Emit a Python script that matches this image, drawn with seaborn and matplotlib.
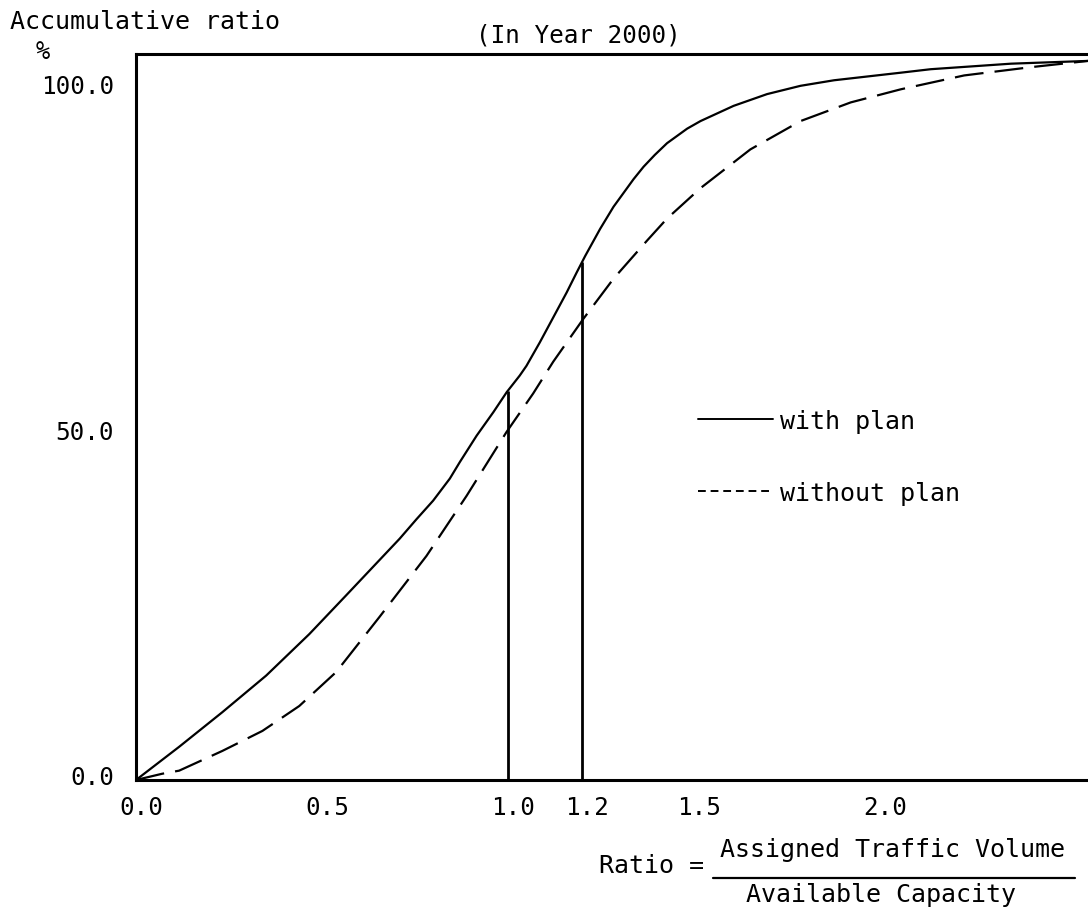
import numpy as np
import pandas as pd
import matplotlib
matplotlib.use("Agg")
import matplotlib.pyplot as plt
from matplotlib.lines import Line2D
from matplotlib.transforms import ScaledTranslation
import seaborn as sns

# ---- data ----
with_x = [0.0, 0.116, 0.232, 0.350, 0.466, 0.565, 0.709, 0.754, 0.799, 0.844,
          0.871, 0.916, 0.961, 0.997, 1.032, 1.050, 1.086, 1.122, 1.158,
          1.185, 1.208, 1.248, 1.284, 1.338, 1.365, 1.395, 1.428, 1.482,
          1.518, 1.607, 1.697, 1.787, 1.877, 2.057, 2.137, 2.353, 2.56]
with_y = [0.0, 4.8, 9.8, 15.1, 21.1, 26.7, 34.9, 37.7, 40.4, 43.6,
          46.0, 49.8, 53.2, 56.1, 58.5, 59.9, 63.3, 66.9, 70.5,
          73.4, 75.8, 79.7, 82.9, 86.9, 88.7, 90.4, 92.1, 94.2,
          95.3, 97.5, 99.2, 100.4, 101.2, 102.3, 102.8, 103.6, 104.0]

without_x = [0.0, 0.07, 0.116, 0.232, 0.340, 0.439, 0.538, 0.655, 0.781, 0.889,
             0.996, 1.068, 1.122, 1.203, 1.284, 1.374, 1.428, 1.518, 1.652,
             1.787, 1.922, 2.057, 2.227, 2.407, 2.56]
without_y = [0.0, 0.9, 1.35, 4.2, 7.1, 10.7, 15.6, 23.6, 32.4, 41.1,
             50.3, 55.9, 60.5, 66.7, 72.5, 78.0, 81.2, 85.6, 91.2,
             95.3, 98.0, 99.9, 101.9, 103.1, 104.0]

marker_x = [1.0, 1.2]
x_ticks = [0.0, 0.5, 1.0, 1.2, 1.5, 2.0]
x_tick_labels = ["0.0", "0.5", "1.0", "1.2", "1.5", "2.0"]
y_ticks = [0.0, 50.0, 100.0]
y_tick_labels = ["0.0", "50.0", "100.0"]
series_labels = ["with plan", "without plan"]

# ---- styling ----
sns.set_theme(style="white")
plt.rcParams["font.family"] = ["DejaVu Sans Mono", "DejaVu Sans"]
plt.rcParams["text.color"] = "black"
plt.rcParams["xtick.color"] = "black"
plt.rcParams["ytick.color"] = "black"

W, H = 1088, 912
fig = plt.figure(figsize=(W / 100, H / 100), dpi=100)
ax = fig.add_axes([136 / W, 1 - 781 / H, (W - 136) / W, (781 - 55) / H])

df_with = pd.DataFrame({"x": with_x, "y": with_y})
df_without = pd.DataFrame({"x": without_x, "y": without_y})

sns.lineplot(data=df_with, x="x", y="y", ax=ax, color="black", lw=1.6,
             estimator=None, sort=False)
sns.lineplot(data=df_without, x="x", y="y", ax=ax, color="black", lw=1.6,
             linestyle=(0, (13, 5)), estimator=None, sort=False)

# vertical reference lines up to the "with plan" curve
tops = np.interp(marker_x, with_x, with_y)
ax.vlines(marker_x, 0, tops, colors="black", lw=2.0)

ax.set_xlim(0, 2.56)
ax.set_ylim(0, 105)
ax.set_xticks(x_ticks)
ax.set_xticklabels(x_tick_labels)
ax.set_yticks(y_ticks)
ax.set_yticklabels(y_tick_labels)
ax.set_xlabel("")
ax.set_ylabel("")
ax.tick_params(axis="x", direction="inout", length=8, width=1.6,
               labelsize=17.5, pad=7, colors="black")
ax.tick_params(axis="y", length=0, labelsize=17.5, pad=16, colors="black")

# small typewriter-like offsets of the tick labels
x_off = ScaledTranslation(5 / 100, 0, fig.dpi_scale_trans)
y_off = ScaledTranslation(0, 5 / 100, fig.dpi_scale_trans)
for lab in ax.get_xticklabels():
    lab.set_transform(lab.get_transform() + x_off)
for lab in ax.get_yticklabels():
    lab.set_transform(lab.get_transform() + y_off)

for side in ["left", "top", "bottom"]:
    ax.spines[side].set_visible(True)
    ax.spines[side].set_color("black")
    ax.spines[side].set_linewidth(2.2)
ax.spines["right"].set_visible(False)

# legend
handles = [Line2D([], [], color="black", lw=1.4),
           Line2D([], [], color="black", lw=1.4, linestyle=(0, (4, 2.5)))]
leg = ax.legend(handles, series_labels, loc="upper left",
                bbox_to_anchor=((698 - 136) / (W - 136), (781 - 410) / 726),
                frameon=False, fontsize=18, handlelength=3.0,
                handletextpad=0.3, labelspacing=1.9, borderpad=0,
                borderaxespad=0, labelcolor="black")

# texts
fig.text(10 / W, 1 - 22 / H, "Accumulative ratio", ha="left", va="center",
         fontsize=18, color="black")
fig.text(43 / W, 1 - 52 / H, "%", ha="center", va="center", fontsize=17,
         color="black")
fig.text(578 / W, 1 - 36 / H, "(In Year 2000)", ha="center", va="center",
         fontsize=17.5, color="black")
fig.text(704 / W, 1 - 866 / H, "Ratio =", ha="right", va="center",
         fontsize=18, color="black")
fig.text(892 / W, 1 - 850 / H, "Assigned Traffic Volume", ha="center",
         va="center", fontsize=18, color="black")
fig.text(881 / W, 1 - 895 / H, "Available Capacity", ha="center",
         va="center", fontsize=18, color="black")
fig.add_artist(Line2D([713 / W, 1075 / W], [1 - 879 / H, 1 - 879 / H],
                      transform=fig.transFigure, color="black", lw=1.6))

fig.savefig("out.png", dpi=100, facecolor="white")
